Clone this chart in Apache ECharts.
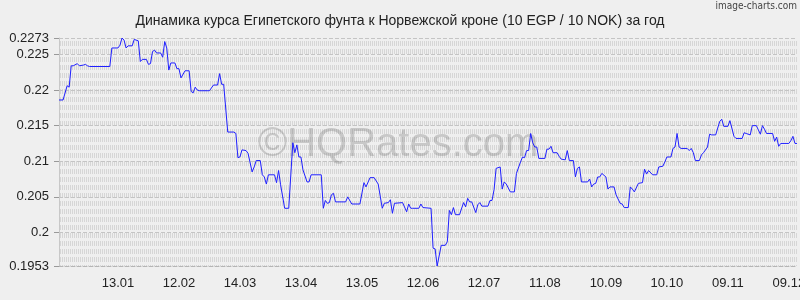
<!DOCTYPE html>
<html><head><meta charset="utf-8">
<script src="https://cdn.jsdelivr.net/npm/echarts@6/dist/echarts.min.js"></script>
<style>html,body{margin:0;padding:0;background:#efefef}#c{width:800px;height:300px}</style>
</head><body><div id="c"></div>
<script>
const chartTitle = 'Динамика курса Египетского фунта к Норвежской кроне (10 EGP / 10 NOK) за год';
const startDate = '2022-12-15';
const dayCount = 364;
const tickLabels = ['13.01','12.02','14.03','13.04','13.05','12.06','12.07','11.08','10.09','10.10','09.11','09.12'];
const yTicks = [0.1953, 0.2, 0.205, 0.21, 0.215, 0.22, 0.225, 0.2273];

const dayOffsets = [0,2,4,5,6,7,9,10,12,13,14,15,25,26,29,30,31,32,33,34,36,37,39,40,41,43,44,45,46,47,48,50,51,52,53,54,55,57,58,59,60,62,64,65,66,67,68,69,74,76,78,79,80,81,83,86,87,88,89,90,92,93,95,96,97,99,100,101,102,103,106,107,108,109,111,113,115,116,117,118,119,120,122,123,124,129,130,131,132,133,134,135,136,141,142,144,148,150,151,153,155,157,159,160,162,163,164,165,169,171,172,173,174,177,178,179,183,184,185,186,188,190,191,192,193,194,195,197,199,200,201,202,203,205,206,207,208,211,212,213,214,215,217,218,219,220,222,224,225,227,228,229,230,231,232,233,234,235,236,239,240,241,242,243,245,246,247,249,250,251,253,254,255,256,257,260,261,262,263,264,265,266,267,269,270,271,273,274,276,277,278,280,281,282,283,285,287,288,289,290,292,294,295,297,298,299,301,302,303,304,305,306,309,310,311,312,313,315,316,317,319,320,321,323,325,326,327,329,330,332,333,336,337,338,340,341,343,344,345,346,347,348,351,352,353,354,355,359,360,361,362,363];
const rates = [0.2186,0.2186,0.2206,0.2204,0.2234,0.2234,0.2237,0.2234,0.2235,0.2236,0.2234,0.2233,0.2233,0.2259,0.2259,0.2263,0.2273,0.2270,0.2259,0.2262,0.2262,0.2271,0.2269,0.2240,0.2243,0.2243,0.2236,0.2237,0.2254,0.2256,0.2252,0.2252,0.2246,0.2268,0.2259,0.2228,0.2238,0.2238,0.2230,0.2230,0.2217,0.2227,0.2227,0.2198,0.2196,0.2204,0.2200,0.2199,0.2199,0.2207,0.2207,0.2223,0.2208,0.2208,0.2141,0.2141,0.2139,0.2105,0.2106,0.2116,0.2115,0.2111,0.2085,0.2092,0.2101,0.2101,0.2081,0.2078,0.2068,0.2081,0.2081,0.2070,0.2087,0.2067,0.2034,0.2034,0.2126,0.2112,0.2123,0.2106,0.2106,0.2088,0.2071,0.2071,0.2081,0.2081,0.2034,0.2045,0.2041,0.2042,0.2053,0.2055,0.2043,0.2043,0.2050,0.2040,0.2040,0.2070,0.2064,0.2077,0.2077,0.2068,0.2034,0.2041,0.2042,0.2046,0.2027,0.2041,0.2042,0.2029,0.2040,0.2034,0.2034,0.2034,0.2040,0.2035,0.2034,0.1978,0.1977,0.1953,0.1982,0.1982,0.1987,0.2031,0.2025,0.2035,0.2025,0.2025,0.2042,0.2036,0.2048,0.2043,0.2043,0.2028,0.2039,0.2042,0.2037,0.2037,0.2045,0.2045,0.2060,0.2090,0.2092,0.2061,0.2071,0.2068,0.2057,0.2057,0.2083,0.2099,0.2106,0.2105,0.2115,0.2115,0.2139,0.2126,0.2120,0.2120,0.2104,0.2104,0.2117,0.2117,0.2121,0.2112,0.2112,0.2107,0.2103,0.2102,0.2115,0.2101,0.2101,0.2078,0.2090,0.2092,0.2071,0.2071,0.2075,0.2064,0.2068,0.2069,0.2078,0.2078,0.2083,0.2078,0.2061,0.2064,0.2064,0.2053,0.2041,0.2040,0.2035,0.2035,0.2064,0.2061,0.2057,0.2069,0.2070,0.2089,0.2082,0.2087,0.2081,0.2081,0.2092,0.2093,0.2099,0.2106,0.2106,0.2118,0.2120,0.2139,0.2120,0.2118,0.2118,0.2115,0.2118,0.2112,0.2101,0.2101,0.2109,0.2112,0.2120,0.2138,0.2137,0.2137,0.2156,0.2159,0.2149,0.2149,0.2157,0.2135,0.2132,0.2132,0.2140,0.2139,0.2137,0.2150,0.2150,0.2144,0.2138,0.2150,0.2145,0.2139,0.2139,0.2128,0.2134,0.2121,0.2125,0.2125,0.2129,0.2135,0.2125,0.2125];

const categories = [];
const t0 = Date.parse(startDate + 'T00:00:00Z');
for (let i = 0; i < dayCount; i++) {
  const d = new Date(t0 + i * 86400000);
  categories.push(String(d.getUTCDate()).padStart(2, '0') + '.' + String(d.getUTCMonth() + 1).padStart(2, '0'));
}
const seriesData = new Array(dayCount).fill(null);
dayOffsets.forEach((d, k) => { seriesData[d] = rates[k]; });

const pc = document.createElement('canvas');
pc.width = 2; pc.height = 8;
const pctx = pc.getContext('2d');
pctx.fillStyle = '#efefef'; pctx.fillRect(0, 0, 2, 8);
pctx.fillStyle = '#d6d6d6'; pctx.fillRect(0, 1, 1, 5);

const chart = echarts.init(document.getElementById('c'), null, {renderer: 'canvas'});
chart.setOption({
  backgroundColor: '#efefef',
  animation: false,
  title: {
    text: chartTitle, left: 'center', top: 9,
    textStyle: {fontFamily: 'Liberation Sans', fontSize: 14, fontWeight: 'normal', color: '#222'}
  },
  graphic: [
    {type: 'text', right: 3, top: 1, z: 10,
     style: {text: 'image-charts.com', font: '10px "Liberation Sans Narrow", "DejaVu Sans Condensed", sans-serif', fill: '#444'}},
    {type: 'text', x: 398, y: 145, z: 1,
     style: {text: '©HQRates.com', font: '40px "Liberation Sans", Arial, sans-serif', fill: 'rgba(110,110,110,0.3)', align: 'center', verticalAlign: 'middle'}}
  ],
  grid: {
    left: 59, right: 3, top: 38, bottom: 34, show: true, borderWidth: 0,
    outerBoundsMode: 'none', containLabel: false,
    backgroundColor: {image: pc, repeat: 'repeat'}
  },
  xAxis: {
    type: 'category', data: categories, boundaryGap: false,
    axisLine: {lineStyle: {color: '#b5b5b5', type: 'dashed'}},
    axisTick: {show: false},
    splitLine: {show: false},
    axisLabel: {
      interval: (i, v) => tickLabels.includes(v),
      hideOverlap: false,
      fontFamily: 'Liberation Sans', fontSize: 13, color: '#222', margin: 11
    }
  },
  yAxis: {
    type: 'value', min: 0.1953, max: 0.2273,
    axisLine: {show: true, lineStyle: {color: '#c8c8c8'}},
    axisTick: {show: true, customValues: yTicks, length: 5, lineStyle: {color: '#999'}},
    axisLabel: {
      customValues: yTicks,
      formatter: v => String(+(+v).toFixed(4)),
      fontFamily: 'Liberation Sans', fontSize: 13, color: '#222', margin: 10
    },
    splitLine: {show: true, lineStyle: {color: '#c4c4c4', type: 'dashed'}}
  },
  series: [{
    type: 'line', data: seriesData, connectNulls: true, showSymbol: false, symbol: 'none',
    lineStyle: {color: '#1f1fff', width: 1}, z: 3
  }]
});
</script>
</body></html>
